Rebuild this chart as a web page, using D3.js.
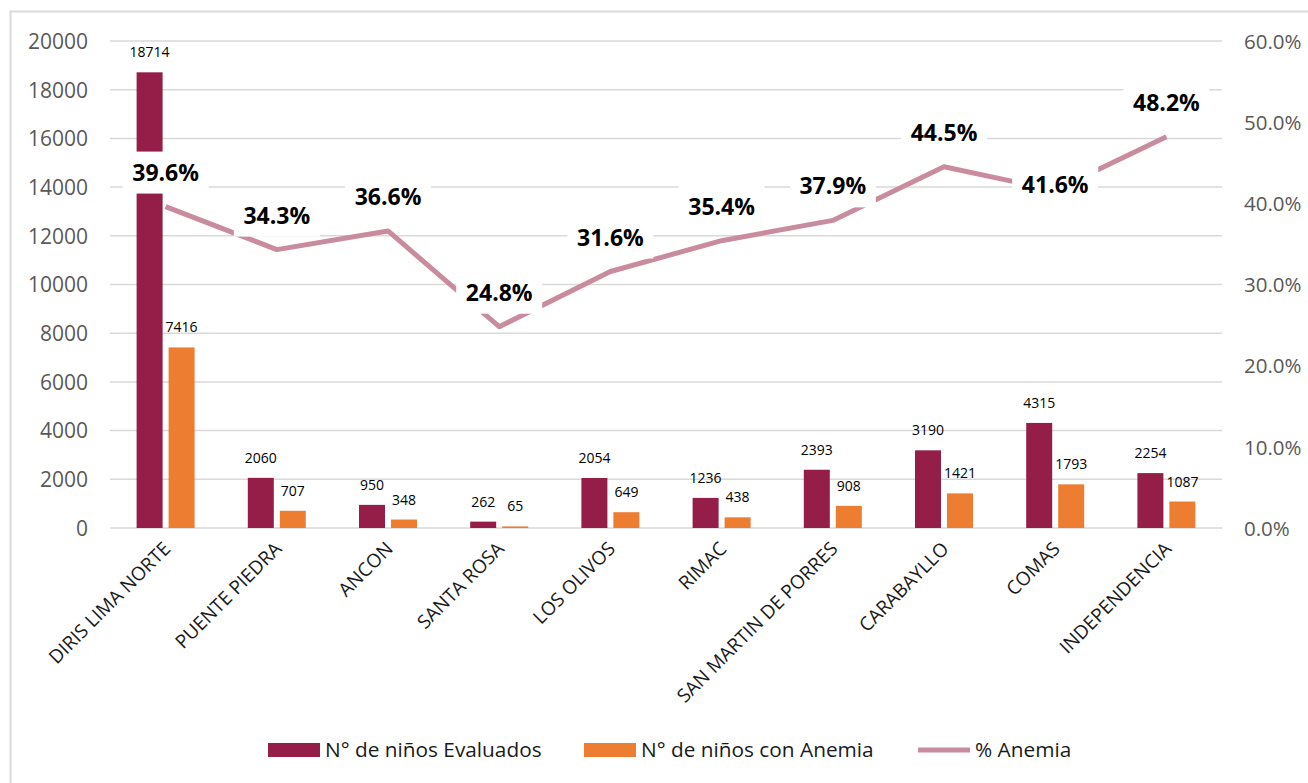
<!DOCTYPE html>
<html>
<head>
<meta charset="utf-8">
<script src="https://cdn.jsdelivr.net/npm/d3@7"></script>
<style>
  body { margin: 0; background: #fff; }
  svg { display: block; font-family: "Open Sans", sans-serif; }
</style>
</head>
<body>
<div id="rootDiv"></div>
<script>
const categories = ["DIRIS LIMA NORTE", "PUENTE PIEDRA", "ANCON", "SANTA ROSA", "LOS OLIVOS",
    "RIMAC", "SAN MARTIN DE PORRES", "CARABAYLLO", "COMAS", "INDEPENDENCIA"]
const evaluados = [18714, 2060, 950, 262, 2054, 1236, 2393, 3190, 4315, 2254]
const conAnemia = [7416, 707, 348, 65, 649, 438, 908, 1421, 1793, 1087]
const pctAnemia = [39.6, 34.3, 36.6, 24.8, 31.6, 35.4, 37.9, 44.5, 41.6, 48.2]
const leftTicks = [0, 2000, 4000, 6000, 8000, 10000, 12000, 14000, 16000, 18000, 20000]
const rightTicks = [0, 10, 20, 30, 40, 50, 60]
const seriesNames = ["N° de niños Evaluados", "N° de niños con Anemia", "% Anemia"]

const colors = { ev: "#941E47", an: "#ED7D31", line: "#C98C9E", grid: "#D9D9D9", axis: "#595959" }

const W = 1308, H = 783
const plot = { left: 110, right: 1222, top: 41, bottom: 528 }

const svg = d3.select("#rootDiv").append("svg").attr("width", W).attr("height", H)

// outer chart frame
svg.append("rect")
    .attr("x", 10.5).attr("y", 11.5)
    .attr("width", 1320).attr("height", 800)
    .attr("fill", "none").attr("stroke", colors.grid).attr("stroke-width", 2)

const x0 = d3.scaleBand().domain(categories).range([plot.left, plot.right])
const x1 = d3.scaleBand().domain(["ev", "an"])
    .range([x0.bandwidth() / 2 - 29, x0.bandwidth() / 2 + 29])
    .paddingInner(0.1875)
const y = d3.scaleLinear().domain([0, 20000]).range([plot.bottom, plot.top])
const y2 = d3.scaleLinear().domain([0, 60]).range([plot.bottom, plot.top])

// gridlines
svg.append("g")
    .selectAll("line")
    .data(leftTicks)
    .enter()
    .append("line")
    .attr("x1", plot.left).attr("x2", plot.right)
    .attr("y1", d => y(d)).attr("y2", d => y(d))
    .attr("stroke", colors.grid).attr("stroke-width", 1.5)

// left axis
const leftAxis = svg.append("g")
    .attr("transform", `translate(${plot.left - 22},0)`)
    .call(d3.axisLeft(y).tickValues(leftTicks).tickSize(0).tickPadding(0).tickFormat(d3.format("d")))
leftAxis.select(".domain").remove()
leftAxis.selectAll("text").attr("fill", colors.axis).attr("font-size", 21)
    .attr("font-family", "Open Sans").attr("dy", "0.35em")

// right axis
const rightAxis = svg.append("g")
    .attr("transform", `translate(${plot.right + 22},0)`)
    .call(d3.axisRight(y2).tickValues(rightTicks).tickSize(0).tickPadding(0).tickFormat(d => d.toFixed(1) + "%"))
rightAxis.select(".domain").remove()
rightAxis.selectAll("text").attr("fill", colors.axis).attr("font-size", 20.5)
    .attr("font-family", "Open Sans").attr("dy", "0.35em")

// bars
const rows = categories.map((c, i) => ({ cat: c, ev: evaluados[i], an: conAnemia[i], pct: pctAnemia[i] }))
const groups = svg.append("g")
    .selectAll("g")
    .data(rows)
    .enter()
    .append("g")
    .attr("transform", d => `translate(${x0(d.cat)},0)`)

for (const key of ["ev", "an"]) {
    groups.append("rect")
        .attr("x", x1(key))
        .attr("width", x1.bandwidth())
        .attr("y", d => y(d[key]))
        .attr("height", d => y(0) - y(d[key]))
        .attr("fill", colors[key])

    groups.append("text")
        .attr("x", x1(key) + x1.bandwidth() / 2)
        .attr("y", d => y(d[key]) - 15)
        .attr("text-anchor", "middle")
        .attr("font-size", 14)
        .attr("fill", "#000")
        .text(d => d[key])
}

// x axis labels
svg.append("g")
    .selectAll("text")
    .data(categories)
    .enter()
    .append("text")
    .attr("transform", d => `translate(${x0(d) + x0.bandwidth() / 2 + 6},${plot.bottom + 22}) rotate(-45)`)
    .attr("text-anchor", "end")
    .attr("font-size", 19)
    .attr("fill", "#1a1a1a")
    .text(d => d)

// % anemia line
const cx = d => x0(d.cat) + x0.bandwidth() / 2
svg.append("path")
    .datum(rows)
    .attr("fill", "none")
    .attr("stroke", colors.line)
    .attr("stroke-width", 5)
    .attr("stroke-linejoin", "round")
    .attr("d", d3.line().x(cx).y(d => y2(d.pct)))

// % labels on white boxes
const pctLabels = svg.append("g")
    .selectAll("g")
    .data(rows)
    .enter()
    .append("g")
    .attr("transform", d => `translate(${cx(d)},${y2(d.pct) + (d.cat === "COMAS" ? -5 : -34)})`)

pctLabels.append("rect")
    .attr("x", -43).attr("y", -21)
    .attr("width", 86).attr("height", 42)
    .attr("fill", "#fff")

pctLabels.append("text")
    .attr("text-anchor", "middle")
    .attr("dy", "0.35em")
    .attr("font-size", 23)
    .attr("font-weight", "bold")
    .attr("fill", "#000")
    .text(d => d.pct.toFixed(1) + "%")

// legend
const legendItems = [
    { name: seriesNames[0], color: colors.ev, type: "rect", x: 268 },
    { name: seriesNames[1], color: colors.an, type: "rect", x: 584 },
    { name: seriesNames[2], color: colors.line, type: "line", x: 918 }
]
const legend = svg.append("g")
    .selectAll("g")
    .data(legendItems)
    .enter()
    .append("g")
    .attr("transform", d => `translate(${d.x},750)`)

legend.filter(d => d.type === "rect").append("rect")
    .attr("x", 0).attr("y", -7).attr("width", 52).attr("height", 14)
    .attr("fill", d => d.color)
legend.filter(d => d.type === "line").append("line")
    .attr("x1", 0).attr("x2", 52).attr("y1", 0).attr("y2", 0)
    .attr("stroke", d => d.color).attr("stroke-width", 5)
legend.append("text")
    .attr("x", 57).attr("dy", "0.35em")
    .attr("font-size", 20.8)
    .attr("fill", "#1a1a1a")
    .text(d => d.name)
</script>
</body>
</html>
